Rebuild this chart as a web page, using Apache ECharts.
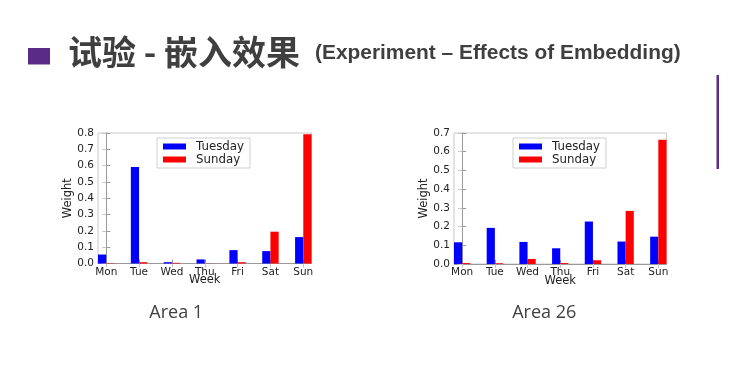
<!DOCTYPE html>
<html><head><meta charset="utf-8">
<script src="https://cdn.jsdelivr.net/npm/echarts@6/dist/echarts.min.js"></script>
<style>html,body{margin:0;padding:0;background:#fff}#c{width:740px;height:382px}</style>
</head><body><div id="c"></div>
<script>
const days = ['Mon', 'Tue', 'Wed', 'Thu', 'Fri', 'Sat', 'Sun'];
const seriesNames = ['Tuesday', 'Sunday'];
const area1Tuesday = [0.055, 0.592, 0.008, 0.025, 0.082, 0.076, 0.162];
const area1Sunday  = [0.002, 0.008, 0.004, 0.001, 0.008, 0.195, 0.792];
const area26Tuesday = [0.116, 0.193, 0.118, 0.084, 0.227, 0.120, 0.146];
const area26Sunday  = [0.005, 0.004, 0.027, 0.005, 0.020, 0.284, 0.664];
const yMax = [0.8, 0.7];
const panelTitles = ['Area 1', 'Area 26'];
const xName = 'Week';
const yName = 'Weight';
const titleCN = '试验 - 嵌入效果';
const titleEN = '(Experiment – Effects of Embedding)';

const panels = [
  { tue: area1Tuesday, sun: area1Sunday, max: yMax[0], title: panelTitles[0] },
  { tue: area26Tuesday, sun: area26Sunday, max: yMax[1], title: panelTitles[1] }
];
const grids = [
  { left: 98, top: 133, width: 213.5, height: 130.5 },
  { left: 454, top: 133, width: 212.5, height: 131 }
];
const tickVals = days.map((d, i) => i);
const FONT = 'DejaVu Sans';
const AX = '#999';
const TXT = '#222';

const option = {
  backgroundColor: '#ffffff',
  animation: false,
  grid: grids.map(g => Object.assign({ show: true, borderColor: '#c8c8c8', borderWidth: 1, backgroundColor: 'transparent' }, g)),
  xAxis: [], yAxis: [], series: [], legend: [],
  graphic: []
};

panels.forEach((p, i) => {
  const xi = option.xAxis.length;
  option.xAxis.push({
    gridIndex: i, type: 'value', min: -0.25, max: 6.25, position: 'bottom',
    axisLine: { show: true, onZero: false, lineStyle: { color: AX, width: 1 } },
    axisTick: { show: true, inside: true, length: 4, customValues: tickVals, lineStyle: { color: AX } },
    axisLabel: { show: true, customValues: tickVals, formatter: v => days[Math.round(v)], fontSize: 10.5, margin: 3, color: TXT, fontFamily: FONT },
    splitLine: { show: false },
    name: xName, nameLocation: 'middle', nameGap: 11, nameMoveOverlap: false,
    nameTextStyle: { fontSize: 11.5, color: TXT, fontFamily: FONT, verticalAlign: 'top' }
  });
  option.xAxis.push({
    gridIndex: i, type: 'value', min: -0.25, max: 6.25, position: 'top',
    axisLine: { show: false },
    axisTick: { show: true, inside: true, length: 4, customValues: tickVals, lineStyle: { color: '#c8c8c8' } },
    axisLabel: { show: false }, splitLine: { show: false }
  });
  const yi = option.yAxis.length;
  option.yAxis.push({
    gridIndex: i, type: 'value', min: 0, max: p.max, interval: 0.1,
    axisLine: { show: true, lineStyle: { color: AX, width: 1 } },
    axisTick: { show: true, inside: true, length: 4, lineStyle: { color: AX } },
    axisLabel: { formatter: v => v.toFixed(1), fontSize: 10.5, margin: 4, color: TXT, fontFamily: FONT },
    splitLine: { show: false },
    name: yName, nameLocation: 'middle', nameGap: 24, nameRotate: 90, nameMoveOverlap: false,
    nameTextStyle: { fontSize: 11.5, color: TXT, fontFamily: FONT }
  });
  option.yAxis.push({
    gridIndex: i, type: 'value', min: 0, max: p.max, interval: 0.1, position: 'right',
    axisLine: { show: false },
    axisTick: { show: true, inside: true, length: 4, lineStyle: { color: '#c8c8c8' } },
    axisLabel: { show: false }, splitLine: { show: false }
  });
  [[seriesNames[0], p.tue, '#0000ff'], [seriesNames[1], p.sun, '#ff0000']].forEach(([name, arr, color]) => {
    option.series.push({
      type: 'bar', name, xAxisIndex: xi, yAxisIndex: yi,
      data: arr.map((v, k) => [k, v]),
      barGap: '0%', barCategoryGap: '50%',
      itemStyle: { color }
    });
  });
  const g = grids[i];
  option.legend.push({
    data: seriesNames, orient: 'vertical', left: g.left + 59, top: 138,
    icon: 'rect', itemWidth: 23, itemHeight: 6, itemGap: 0,
    padding: [2, 6, 2, 6], borderColor: '#cfcfcf', borderWidth: 1,
    selectedMode: false,
    textStyle: { fontSize: 11.8, lineHeight: 13, color: TXT, fontFamily: FONT, padding: [0, 0, 0, 5] }
  });
  option.graphic.push({
    type: 'text',
    style: {
      text: p.title, x: g.left + g.width / 2 - (i === 0 ? 28.5 : 16), y: 313,
      font: '18px "Open Sans"', fill: '#404040', textAlign: 'center', textVerticalAlign: 'middle'
    }
  });
});

option.graphic.push(
  { type: 'rect', shape: { x: 28, y: 48, width: 22, height: 16.5 }, style: { fill: '#5b2c86' } },
  { type: 'text', style: { text: titleCN, x: 68, y: 52.5, font: 'bold 34px "Noto Sans CJK SC"', fill: '#3f3f3f', textVerticalAlign: 'middle' } },
  { type: 'text', style: { text: titleEN, x: 315, y: 53.5, font: 'bold 20.9px "Liberation Sans"', fill: '#3f3f3f', textVerticalAlign: 'middle' } },
  { type: 'rect', shape: { x: 716.5, y: 75, width: 2.5, height: 94 }, style: { fill: '#5b2c86' } }
);

const chart = echarts.init(document.getElementById('c'), null, { renderer: 'canvas' });
chart.setOption(option);
</script></body></html>
